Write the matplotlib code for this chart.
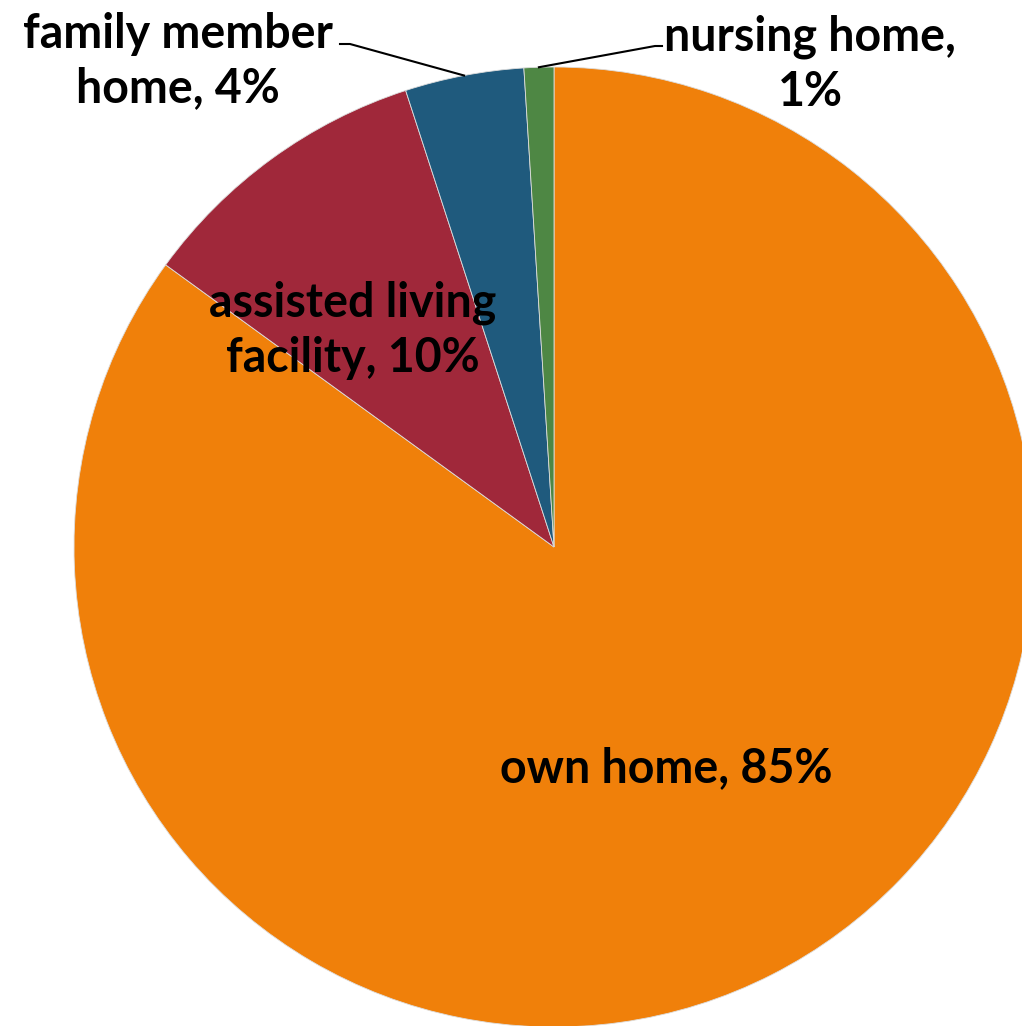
import numpy as np
import matplotlib.pyplot as plt

labels = ["own home", "assisted living\nfacility", "family member\nhome", "nursing home"]
shares = [85, 10, 4, 1]
colors = ["#F0800A", "#A0283A", "#1F5A7D", "#4E8744"]

W, H = 1022, 1026
fig = plt.figure(figsize=(W / 100, H / 100), dpi=100)
ax = fig.add_axes([0, 0, 1, 1])

cx, cy, r = 554, H - 547, 480
wedges, _ = ax.pie(shares, colors=colors, startangle=90, counterclock=False,
                   center=(cx, cy), radius=r, frame=True,
                   wedgeprops=dict(edgecolor="#dddddd", linewidth=0.6))
ax.set_xlim(0, W)
ax.set_ylim(0, H)
ax.axis("off")

font = dict(family=["Lato", "DejaVu Sans"], fontweight="bold", fontsize=33.5,
            color="black", ha="center", va="center", linespacing=1.3)

# labels inside the two big slices
ax.text(666, H - 768, f"{labels[0]}, {shares[0]}%", **font)
ax.text(353, H - 330, f"{labels[1]}, {shares[1]}%", **font)


def edge_point(w, rad=r):
    a = np.deg2rad((w.theta1 + w.theta2) / 2)
    return cx + rad * np.cos(a), cy + rad * np.sin(a)


# outside labels with leader lines for the two small slices
x0, y0 = edge_point(wedges[2])
ax.plot([x0, 350, 340], [y0, H - 44, H - 44], color="black", lw=1.5)
ax.text(178, H - 61, f"{labels[2]}, {shares[2]}%", **font)

x0, y0 = edge_point(wedges[3])
ax.plot([x0, 655, 662], [y0, H - 46, H - 46], color="black", lw=1.5)
ax.text(810, H - 64, f"{labels[3]},\n{shares[3]}%", **font)

fig.savefig("out.png", dpi=100)
